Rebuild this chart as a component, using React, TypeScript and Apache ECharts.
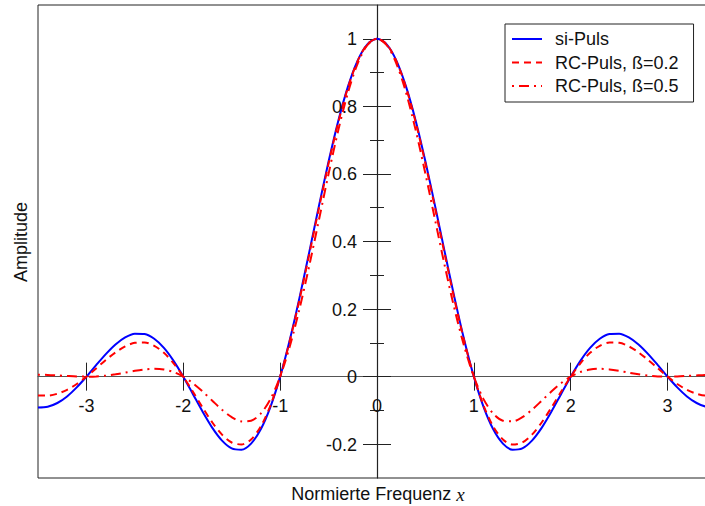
import React, { useEffect, useRef } from "react";
import * as echarts from "echarts";

const xValues = [
  -3.5, -3.4, -3.3, -3.2, -3.1, -3, -2.9, -2.8, -2.7, -2.6, -2.5, -2.4, -2.3, -2.2, -2.1, -2,
  -1.9, -1.8, -1.7, -1.6, -1.5, -1.4, -1.3, -1.2, -1.1, -1, -0.9, -0.8, -0.7, -0.6, -0.5, -0.4,
  -0.3, -0.2, -0.1, 0, 0.1, 0.2, 0.3, 0.4, 0.5, 0.6, 0.7, 0.8, 0.9, 1, 1.1, 1.2, 1.3, 1.4, 1.5,
  1.6, 1.7, 1.8, 1.9, 2, 2.1, 2.2, 2.3, 2.4, 2.5, 2.6, 2.7, 2.8, 2.9, 3, 3.1, 3.2, 3.3, 3.4, 3.5,
];

const siPuls = [
  -0.091, -0.089, -0.078, -0.0585, -0.0317, 0, 0.0339, 0.0668, 0.0954, 0.1164, 0.1273, 0.1261,
  0.112, 0.0851, 0.0468, 0, -0.0518, -0.1039, -0.1515, -0.1892, -0.2122, -0.2162, -0.1981,
  -0.1559, -0.0894, 0, 0.1093, 0.2339, 0.3679, 0.5046, 0.6366, 0.7568, 0.8584, 0.9355, 0.9836,
  1,
  0.9836, 0.9355, 0.8584, 0.7568, 0.6366, 0.5046, 0.3679, 0.2339, 0.1093, 0, -0.0894, -0.1559,
  -0.1981, -0.2162, -0.2122, -0.1892, -0.1515, -0.1039, -0.0518, 0, 0.0468, 0.0851, 0.112,
  0.1261, 0.1273, 0.1164, 0.0954, 0.0668, 0.0339, 0, -0.0317, -0.0585, -0.078, -0.089, -0.091,
];

const rcPuls02 = [
  -0.0557, -0.0562, -0.0506, -0.039, -0.0217, 0, 0.0244, 0.0492, 0.0718, 0.0896, 0.1, 0.101,
  0.0914, 0.0706, 0.0396, 0, -0.0451, -0.0919, -0.1357, -0.1717, -0.1949, -0.2008, -0.1859,
  -0.1477, -0.0854, 0, 0.106, 0.2283, 0.3612, 0.4978, 0.6307, 0.7523, 0.8555, 0.9341, 0.9833,
  1,
  0.9833, 0.9341, 0.8555, 0.7523, 0.6307, 0.4978, 0.3612, 0.2283, 0.106, 0, -0.0854, -0.1477,
  -0.1859, -0.2008, -0.1949, -0.1717, -0.1357, -0.0919, -0.0451, 0, 0.0396, 0.0706, 0.0914,
  0.101, 0.1, 0.0896, 0.0718, 0.0492, 0.0244, 0, -0.0217, -0.039, -0.0506, -0.0562, -0.0557,
];

const rcPuls05 = [
  0.0057, 0.005, 0.0036, 0.002, 0.0006, 0, 0.0007, 0.003, 0.0069, 0.0119, 0.0172, 0.0214,
  0.0233, 0.0211, 0.0136, 0, -0.0196, -0.0441, -0.0714, -0.0981, -0.1201, -0.1324, -0.1303,
  -0.1095, -0.0666, 0, 0.09, 0.2008, 0.3275, 0.4634, 0.6002, 0.7289, 0.8405, 0.9268, 0.9813,
  1,
  0.9813, 0.9268, 0.8405, 0.7289, 0.6002, 0.4634, 0.3275, 0.2008, 0.09, 0, -0.0666, -0.1095,
  -0.1303, -0.1324, -0.1201, -0.0981, -0.0714, -0.0441, -0.0196, 0, 0.0136, 0.0211, 0.0233,
  0.0214, 0.0172, 0.0119, 0.0069, 0.003, 0.0007, 0, 0.0006, 0.002, 0.0036, 0.005, 0.0057,
];

const seriesNames = ["si-Puls", "RC-Puls, ß=0.2", "RC-Puls, ß=0.5"];
const xTicks = [-3, -2, -1, 0, 1, 2, 3];
const yMajorTicks = [-0.2, 0, 0.2, 0.4, 0.6, 0.8, 1];
const yMinorTicks = [-0.1, 0.1, 0.3, 0.5, 0.7, 0.9];

const FONT = "'Liberation Sans', Arial, Helvetica, sans-serif";
const FS = 18;
const TICK = "#222";
const TXT = "#111";

export default function App() {
  const ref = useRef<HTMLDivElement>(null);

  useEffect(() => {
    if (!ref.current) return;
    const chart = echarts.init(ref.current, null, { renderer: "svg" });

    const pair = (ys: number[]) => xValues.map((x, i) => [x, ys[i]]);

    const xBase = {
      type: "value",
      min: -3.5,
      max: 3.5,
      splitLine: { show: false },
      axisLabel: { show: false },
    };
    const yBase = {
      type: "value",
      min: -0.3,
      max: 1.1,
      splitLine: { show: false },
      axisLabel: { show: false },
    };
    const tickStyle = { color: TICK, width: 1 };

    const option: any = {
      animation: false,
      backgroundColor: "#fff",
      grid: {
        left: 38,
        top: 5,
        right: -11,
        bottom: 28,
        show: true,
        borderColor: "#222",
        borderWidth: 1,
        backgroundColor: "transparent",
        containLabel: false,
        outerBoundsMode: "none",
      },
      xAxis: [
        {
          ...xBase,
          position: "bottom",
          axisLine: { show: true, onZero: true, onZeroAxisIndex: 0, lineStyle: { color: "#555", width: 1.2 } },
          axisTick: { show: true, inside: false, length: 14, customValues: xTicks, lineStyle: tickStyle },
        },
        {
          ...xBase,
          position: "top",
          axisLine: { show: false, onZero: true, onZeroAxisIndex: 0 },
          axisTick: { show: true, inside: false, length: 14, customValues: xTicks, lineStyle: tickStyle },
        },
      ],
      yAxis: [
        {
          ...yBase,
          position: "left",
          axisLine: { show: true, onZero: true, onZeroAxisIndex: 0, lineStyle: { color: "#222", width: 1.2 } },
          axisTick: { show: true, inside: false, length: 14, customValues: yMajorTicks, lineStyle: tickStyle },
        },
        {
          ...yBase,
          position: "right",
          axisLine: { show: false, onZero: true, onZeroAxisIndex: 0 },
          axisTick: { show: true, inside: false, length: 14, customValues: yMajorTicks, lineStyle: tickStyle },
        },
        {
          ...yBase,
          position: "left",
          axisLine: { show: false, onZero: true, onZeroAxisIndex: 0 },
          axisTick: { show: true, inside: false, length: 7, customValues: yMinorTicks, lineStyle: tickStyle },
        },
        {
          ...yBase,
          position: "right",
          axisLine: { show: false, onZero: true, onZeroAxisIndex: 0 },
          axisTick: { show: true, inside: false, length: 7, customValues: yMinorTicks, lineStyle: tickStyle },
        },
      ],
      legend: {
        data: seriesNames,
        orient: "vertical",
        left: 505,
        top: 24,
        itemWidth: 30,
        itemHeight: 14,
        itemGap: 5.5,
        padding: [6, 15, 7, 6],
        backgroundColor: "#fff",
        borderColor: "#222",
        borderWidth: 1,
        borderRadius: 0,
        itemStyle: { opacity: 0 },
        textStyle: {
          fontSize: FS,
          fontFamily: FONT,
          color: TXT,
          padding: [0, 0, 0, 8],
        },
      },
      graphic: [
        {
          type: "text",
          x: 21,
          y: 242,
          rotation: Math.PI / 2,
          style: {
            text: "Amplitude",
            fontSize: FS,
            fontFamily: FONT,
            fill: TXT,
            align: "center",
            verticalAlign: "middle",
          },
        },
        {
          type: "text",
          x: 378,
          y: 494,
          style: {
            text: "{a|Normierte Frequenz }{b|x}",
            align: "center",
            verticalAlign: "middle",
            rich: {
              a: { fontSize: FS, fontFamily: FONT, fill: TXT, color: TXT },
              b: {
                fontSize: 19,
                fontFamily: "'Liberation Serif', 'DejaVu Serif', serif",
                fontStyle: "italic",
                fill: TXT,
                color: TXT,
              },
            },
          },
        },
      ],
      series: [
        {
          name: seriesNames[0],
          type: "line",
          xAxisIndex: 0,
          yAxisIndex: 0,
          data: pair(siPuls),
          symbol: "none",
          showSymbol: false,
          smooth: 0.3,
          lineStyle: { color: "#0000ff", width: 2, type: "solid" },
          itemStyle: { color: "#0000ff" },
        },
        {
          name: seriesNames[1],
          type: "line",
          xAxisIndex: 0,
          yAxisIndex: 0,
          data: pair(rcPuls02),
          symbol: "none",
          showSymbol: false,
          smooth: 0.3,
          lineStyle: { color: "#ff0000", width: 2, type: [7, 5] },
          itemStyle: { color: "#ff0000" },
        },
        {
          name: seriesNames[2],
          type: "line",
          xAxisIndex: 0,
          yAxisIndex: 0,
          data: pair(rcPuls05),
          symbol: "none",
          showSymbol: false,
          smooth: 0.3,
          lineStyle: { color: "#ff0000", width: 2, type: [2, 5, 10, 5] },
          itemStyle: { color: "#ff0000" },
        },
        {
          type: "custom",
          name: "xTickLabels",
          xAxisIndex: 0,
          yAxisIndex: 0,
          silent: true,
          clip: false,
          z: 5,
          data: xTicks.map((v) => [v]),
          renderItem: (_p: any, api: any) => {
            const v = api.value(0);
            const pt = api.coord([v, 0]);
            return {
              type: "text",
              x: pt[0],
              y: pt[1] + 29,
              style: {
                text: String(v),
                fontSize: FS,
                fontFamily: FONT,
                fill: TXT,
                align: "center",
                verticalAlign: "middle",
              },
            };
          },
        },
        {
          type: "custom",
          name: "yTickLabels",
          xAxisIndex: 0,
          yAxisIndex: 0,
          silent: true,
          clip: false,
          z: 5,
          data: yMajorTicks.map((v) => [0, v]),
          renderItem: (_p: any, api: any) => {
            const v = api.value(1);
            const pt = api.coord([0, v]);
            return {
              type: "text",
              x: pt[0] - 20,
              y: pt[1] + 0.5,
              style: {
                text: String(v),
                fontSize: FS,
                fontFamily: FONT,
                fill: TXT,
                align: "right",
                verticalAlign: "middle",
              },
            };
          },
        },
      ],
    };

    chart.setOption(option);
    return () => chart.dispose();
  }, []);

  return (
    <div
      ref={ref}
      style={{ position: "absolute", left: 0, top: 0, width: 705, height: 506, background: "#fff" }}
    />
  );
}
